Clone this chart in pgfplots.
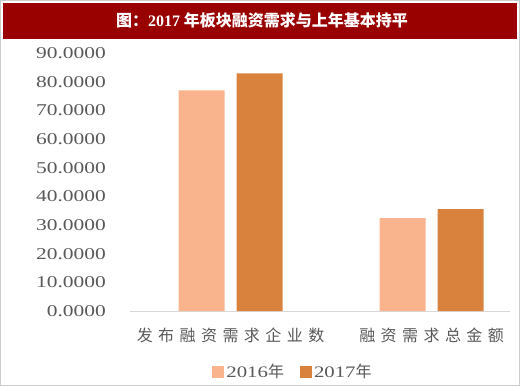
\documentclass[border=0pt]{standalone}
\usepackage{pgfplots}
\pgfplotsset{compat=1.18}
\usepackage{fontspec}
\setmainfont{Liberation Serif}
\newfontfamily\numfont[FakeStretch=1.3]{Liberation Serif}
\newfontfamily\cjk{Noto Sans CJK SC}
\newfontfamily\cjkls[LetterSpace=34]{Noto Sans CJK SC}
\definecolor{titlered}{HTML}{990000}
\definecolor{c2016}{HTML}{F9B48D}
\definecolor{c2017}{HTML}{D9823E}
\definecolor{txtgray}{HTML}{595959}
\definecolor{axgray}{HTML}{D9D9D9}
\begin{document}
\begin{tikzpicture}
\path[use as bounding box] (0pt,0pt) rectangle (520pt,386pt);
\draw[gray!40, line width=0.8pt] (0.5pt,0.5pt) rectangle (519.5pt,385.5pt);
\fill[titlered] (3pt,347pt) rectangle (517pt,383pt);
\node[text=white, font=\fontsize{16}{16}\selectfont\bfseries] at (262pt,366pt) {\cjk 图：\textbf{\rmfamily 2017} 年板块融资需求与上年基本持平};
\begin{axis}[
  at={(130pt,75pt)}, anchor=south west,
  scale only axis, width=380pt, height=258pt,
  xmin=-0.5, xmax=1.39, ymin=0, ymax=90,
  ybar, bar width=46pt,
  axis x line*=bottom, axis y line*=left,
  x axis line style={axgray, line width=1pt},
  y axis line style={draw=none},
  xtick={0,1}, xticklabels={发布融资需求企业数,融资需求总金额},
  xtick style={draw=none},
  xticklabel style={font=\cjkls\fontsize{16}{16}\selectfont, text=txtgray, inner sep=0pt, yshift=-12pt},
  ytick={0,10,...,90},
  yticklabel style={font=\numfont\fontsize{16.5}{16.5}\selectfont, text=txtgray, inner sep=0pt, xshift=-24pt, /pgf/number format/.cd, fixed, fixed zerofill, precision=4, assume math mode=true},
  ytick style={draw=none},
  legend columns=2,
  legend style={at={(0.429,-0.236)}, anchor=center, draw=none, fill=none,
    font=\fontsize{16}{16}\selectfont, text=txtgray,
    /tikz/every even column/.append style={column sep=14pt}},
  legend image code/.code={\fill[#1] (0pt,-6pt) rectangle (12pt,6pt);},
]
\addplot[fill=c2016, draw=none, bar shift=-29pt] coordinates {(0,77.0) (1,32.4)};
\addplot[fill=c2017, draw=none, bar shift=29pt] coordinates {(0,82.9) (1,35.5)};
\legend{{\numfont 2016}{\cjk 年},{\numfont 2017}{\cjk 年}}
\end{axis}
\end{tikzpicture}
\end{document}
